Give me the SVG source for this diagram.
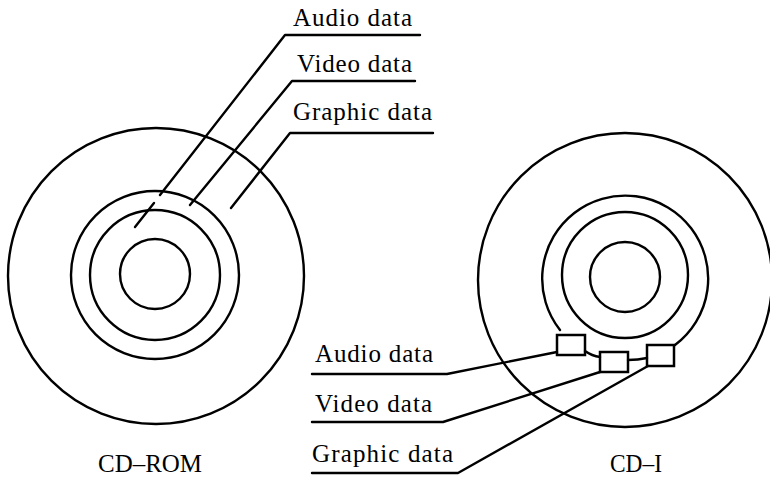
<svg xmlns="http://www.w3.org/2000/svg" width="770" height="479" viewBox="0 0 770 479">
<style>
.s{fill:none;stroke:#000;stroke-width:2.4;stroke-linecap:round;stroke-linejoin:round}
.b{fill:#fff;stroke:#000;stroke-width:2.5}
text{font-family:"Liberation Serif","Times New Roman",serif;font-size:25px;fill:#000}
</style>
<rect width="770" height="479" fill="#fff"/>
<g id="cdrom-disc">
<circle class="s" cx="156" cy="276" r="148"/>
<circle class="s" cx="155" cy="275" r="84"/>
<circle class="s" cx="155" cy="275" r="65"/>
<circle class="s" cx="155" cy="274" r="35"/>
<text x="98" y="472" textLength="104" lengthAdjust="spacingAndGlyphs">CD–ROM</text>
</g>
<g id="cdrom-labels">
<text x="293" y="26" textLength="119" lengthAdjust="spacing">Audio data</text>
<text x="297" y="72" textLength="115" lengthAdjust="spacing">Video data</text>
<text x="293" y="120" textLength="139" lengthAdjust="spacing">Graphic data</text>
</g>
<g id="cdi-disc">
<circle class="s" cx="625" cy="280" r="147"/>
<path class="s" d="M560 330 A83 83 0 1 1 675 345"/>
<circle class="s" cx="625" cy="275" r="63"/>
<circle class="s" cx="625" cy="277" r="35"/>
<text x="610" y="472" textLength="52" lengthAdjust="spacingAndGlyphs">CD–I</text>
</g>
<g id="cdi-blocks">
<rect id="audio-block" class="b" x="557" y="335" width="28" height="20"/>
<rect id="video-block" class="b" x="600" y="352" width="28" height="20"/>
<rect id="graphic-block" class="b" x="647" y="345" width="27" height="21"/>
</g>
<g id="cdi-labels">
<text x="315" y="362" textLength="118" lengthAdjust="spacing">Audio data</text>
<text x="315" y="412" textLength="117" lengthAdjust="spacing">Video data</text>
<text x="312" y="462" textLength="141" lengthAdjust="spacing">Graphic data</text>
</g>
<g id="connectors" class="s">
<path d="M420 35 H285 L160 195"/>
<path d="M154 203 L135 227"/>
<path d="M415 81 H292 L190 205"/>
<path d="M433 133 H290 L231 208"/>
<path d="M585 351 Q592 356 600 357"/>
<path d="M628 360 Q638 360 647 358"/>
<path d="M312 374 H447 L557 352"/>
<path d="M312 422 H443 L600 372"/>
<path d="M312 473 H458 L648 366"/>
</g>
</svg>
